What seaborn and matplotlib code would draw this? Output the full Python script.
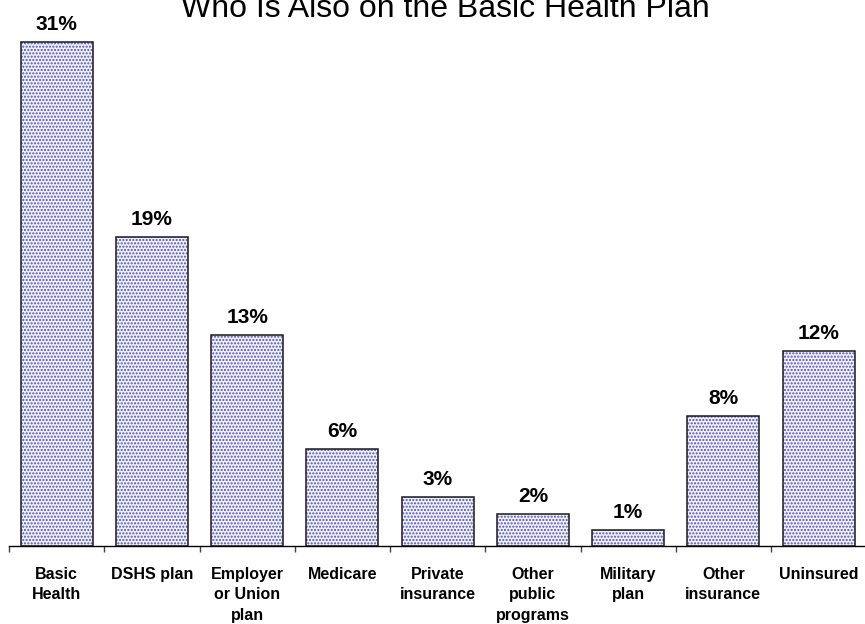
import matplotlib
matplotlib.use("Agg")
import matplotlib.pyplot as plt
from matplotlib.patches import Rectangle
from matplotlib.ticker import FixedLocator, NullFormatter
import seaborn as sns
import pandas as pd

categories = [
    "Basic\nHealth",
    "DSHS plan",
    "Employer\nor Union\nplan",
    "Medicare",
    "Private\ninsurance",
    "Other\npublic\nprograms",
    "Military\nplan",
    "Other\ninsurance",
    "Uninsured",
]
percent = [31, 19, 13, 6, 3, 2, 1, 8, 12]
title = "Who Is Also on the Basic Health Plan"

sns.set_theme(style="white")
plt.rcParams["font.family"] = ["Liberation Sans", "DejaVu Sans"]
plt.rcParams["hatch.linewidth"] = 1.0

df = pd.DataFrame({"category": categories, "percent": percent})

W, H = 865, 624
fig = plt.figure(figsize=(W / 100, H / 100), dpi=100)
ax = fig.add_axes([9 / W, 78 / H, 857.25 / W, 520 / H])

sns.barplot(
    data=df, x="category", y="percent", ax=ax,
    color="#f0f0fb", width=0.755, saturation=1,
    edgecolor="#5050b8", linewidth=0, hatch=".....",
)

# dark outline drawn on top of the dotted fill
for p in list(ax.patches):
    p.set_hatch(".....")
    p.set_edgecolor("#5050b8")
    p.set_linewidth(0)
    ax.add_patch(Rectangle(p.get_xy(), p.get_width(), p.get_height(),
                           fill=False, edgecolor="#1a1a1a", linewidth=1.1,
                           zorder=3))

for i, v in enumerate(percent):
    ax.annotate(f"{v}%", (i, v), xytext=(0, 8.5), textcoords="offset points",
                ha="center", va="baseline", fontsize=15, fontweight="bold",
                color="black", annotation_clip=False)

ax.set_xlim(-0.5, len(categories) - 0.5)
ax.set_ylim(0, 32)
ax.set_xlabel("")
ax.set_ylabel("")
ax.set_yticks([])

for s in ("left", "top", "right"):
    ax.spines[s].set_visible(False)
ax.spines["bottom"].set_color("black")
ax.spines["bottom"].set_linewidth(1.0)

ax.xaxis.set_minor_locator(FixedLocator([i - 0.5 for i in range(len(categories) + 1)]))
ax.xaxis.set_minor_formatter(NullFormatter())
ax.tick_params(axis="x", which="major", length=0, pad=15,
               labelsize=11.5, labelcolor="black")
ax.tick_params(axis="x", which="minor", length=4, width=1.0,
               color="#444444", direction="out", bottom=True)
for lbl in ax.get_xticklabels():
    lbl.set_fontweight("bold")
    lbl.set_linespacing(1.45)

fig.text(445 / W, 1 - 17 / H, title, ha="center", va="baseline",
         fontsize=23, color="black")

fig.savefig("out.png", dpi=100)
